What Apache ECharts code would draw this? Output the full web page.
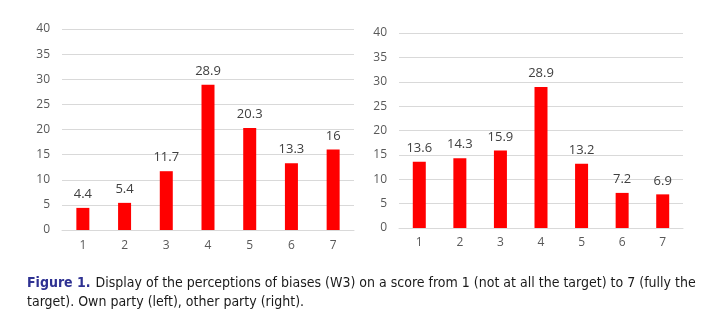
<!DOCTYPE html>
<html><head><meta charset="utf-8">
<script src="https://cdn.jsdelivr.net/npm/echarts@6/dist/echarts.min.js"></script>
<style>html,body{margin:0;padding:0;background:#fff}#c{width:720px;height:320px}</style>
</head><body><div id="c"></div>
<script>
const categories = ['1','2','3','4','5','6','7'];
const ownParty = [4.4, 5.4, 11.7, 28.9, 20.3, 13.3, 16];
const otherParty = [13.6, 14.3, 15.9, 28.9, 13.2, 7.2, 6.9];
const captionLine1 = 'Display of the perceptions of biases (W3) on a score from 1 (not at all the target) to 7 (fully the';
const captionLine2 = 'target). Own party (left), other party (right).';

const chart = echarts.init(document.getElementById('c'));
const lblFont = 'Open Sans, Liberation Sans, sans-serif';
const capFont = 'DejaVu Sans Condensed, sans-serif';
function yAx(gi){return {type:'value',gridIndex:gi,min:0,max:40,interval:5,
  axisLine:{show:false},axisTick:{show:false},
  axisLabel:{color:'#595959',fontSize:12,margin:12,fontFamily:lblFont},
  splitLine:{lineStyle:{color:'#d9d9d9',width:1}}};}
function xAx(gi,m){return {type:'category',gridIndex:gi,data:categories,
  axisLine:{lineStyle:{color:'#d9d9d9'}},axisTick:{show:false},
  axisLabel:{color:'#595959',fontSize:12,margin:m,fontFamily:lblFont}};}
function ser(i,d,w){return {type:'bar',xAxisIndex:i,yAxisIndex:i,data:d,barWidth:w,
  itemStyle:{color:'#ff0000'},
  label:{show:true,position:'top',distance:7,color:'#404040',fontSize:13,fontFamily:lblFont}};}
chart.setOption({
  animation:false,
  grid:[{left:62,right:366,top:29,bottom:90},{left:399,right:37,top:33,bottom:92}],
  xAxis:[xAx(0,10),xAx(1,9)],
  yAxis:[yAx(0),yAx(1)],
  series:[ser(0,ownParty,13),ser(1,otherParty,13)],
  title:[
    {left:22,top:269,text:'{b|Figure 1.} {t|'+captionLine1+'}',
     textStyle:{fontWeight:'normal',rich:{b:{color:'#2e3192',fontSize:14,fontWeight:'bold',fontFamily:capFont},
       t:{color:'#1a1a1a',fontSize:14,fontWeight:'normal',fontFamily:capFont}}}},
    {left:22,top:290,text:captionLine2,
     textStyle:{color:'#1a1a1a',fontSize:14,fontWeight:'normal',fontFamily:capFont}}
  ]
});
</script></body></html>
